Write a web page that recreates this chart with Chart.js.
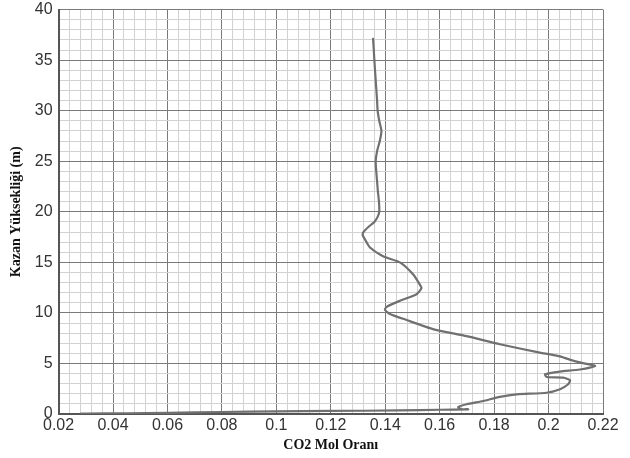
<!DOCTYPE html>
<html>
<head>
<meta charset="utf-8">
<script src="https://cdn.jsdelivr.net/npm/chart.js@4.4.0/dist/chart.umd.min.js"></script>
<style>
    html, body { margin: 0; padding: 0; background: #fff; overflow: hidden; }
    #wrap { width: 630px; height: 464px; margin-top: -6px; }
</style>
</head>
<body>
<div id="wrap"><canvas id="myChart"></canvas></div>
<script>
// profile, top of the boiler down to the bottom
const heights = [37.2, 36, 35, 33, 31, 30, 29, 28, 27, 26, 25, 24, 23, 22, 21, 20, 19.5, 19, 18.5, 18, 17.7, 17.3,
    16.5, 15.6, 15.0, 13.8, 12.8, 12.45, 11.85, 11.2, 10.6, 10.3, 9.9, 9.3, 8.4, 7.7, 6.9, 6.07, 5.9, 5.7, 5.4, 5.1, 4.9, 4.75,
    4.4, 4.2, 3.93, 3.66, 3.6, 3.34, 2.94, 2.45, 2.1, 1.95, 1.7, 1.29, 0.96, 0.69, 0.46, 0.46,
    0.42, 0.35, 0.3, 0.25, 0.2, 0.12, 0.07, 0.05, 0.03];
const co2 = [0.1355, 0.1358, 0.136, 0.1365, 0.137, 0.1372, 0.1378, 0.1386, 0.138, 0.137, 0.1365, 0.1367, 0.137, 0.1373, 0.1377, 0.1378, 0.1372, 0.136, 0.1338, 0.132, 0.1317, 0.1325,
    0.1343, 0.1392, 0.1454, 0.1503, 0.1527, 0.1533, 0.1515, 0.1454, 0.1405, 0.1399, 0.1417, 0.1478, 0.1575, 0.1699, 0.1821, 0.1968, 0.2005, 0.2042, 0.2075, 0.2115, 0.2150, 0.2171,
    0.2115, 0.2042, 0.1987, 0.1993, 0.2054, 0.2079, 0.2072, 0.2042, 0.1993, 0.1883, 0.1821, 0.176, 0.1699, 0.1668, 0.168, 0.1705,
    0.16, 0.145, 0.12, 0.10, 0.08, 0.06, 0.045, 0.03, 0.028];

const xMin = 0.02, xMax = 0.22, xMajor = 0.02, xMinor = 0.004;
const yMin = 0, yMax = 40, yMajor = 5, yMinor = 1;

const isMajor = (v, step) => Math.abs(v / step - Math.round(v / step)) < 1e-6;

const points = co2.map((x, i) => ({ x: x, y: heights[i] }));

const tickFont = { family: 'Liberation Sans', size: 16 };
const titleFont = { family: 'Liberation Serif', size: 14, weight: 'bold' };

let myChart = document.getElementById('myChart').getContext('2d');
let profileChart = new Chart(myChart, {
    type: 'scatter',
    data: {
        datasets: [{
            label: 'CO2',
            data: points,
            showLine: true,
            borderColor: '#707070',
            borderWidth: 2.2,
            pointRadius: 0,
            tension: 0.2
        }]
    },
    options: {
        animation: false,
        responsive: true,
        maintainAspectRatio: false,
        plugins: {
            legend: { display: false },
            tooltip: { enabled: false }
        },
        layout: {
            padding: { left: 8, right: 27, top: 0, bottom: 4 }
        },
        scales: {
            x: {
                type: 'linear',
                min: xMin,
                max: xMax,
                ticks: {
                    stepSize: xMinor,
                    autoSkip: false,
                    maxRotation: 0,
                    color: '#333',
                    font: tickFont,
                    padding: 2,
                    callback: (v) => isMajor(v, xMajor) ? String(Math.round(v * 100) / 100) : ''
                },
                grid: {
                    drawTicks: false,
                    color: (c) => isMajor(c.tick.value, xMajor) ? '#7a7a7a' : '#d2d2d2',
                    lineWidth: 1
                },
                border: { color: '#555', width: 2 },
                title: {
                    display: true,
                    text: 'CO2 Mol Oranı',
                    color: '#111',
                    font: titleFont,
                    padding: { top: 0, bottom: 0 }
                }
            },
            y: {
                type: 'linear',
                min: yMin,
                max: yMax,
                ticks: {
                    stepSize: yMinor,
                    autoSkip: false,
                    color: '#333',
                    font: tickFont,
                    padding: 6,
                    callback: (v) => isMajor(v, yMajor) ? String(v) : ''
                },
                grid: {
                    drawTicks: false,
                    color: (c) => isMajor(c.tick.value, yMajor) ? '#7a7a7a' : '#d2d2d2',
                    lineWidth: 1
                },
                border: { color: '#555', width: 2 },
                title: {
                    display: true,
                    text: 'Kazan Yüksekliği (m)',
                    color: '#111',
                    font: titleFont,
                    padding: { top: 0, bottom: 4 }
                }
            }
        }
    }
});
</script>
</body>
</html>
